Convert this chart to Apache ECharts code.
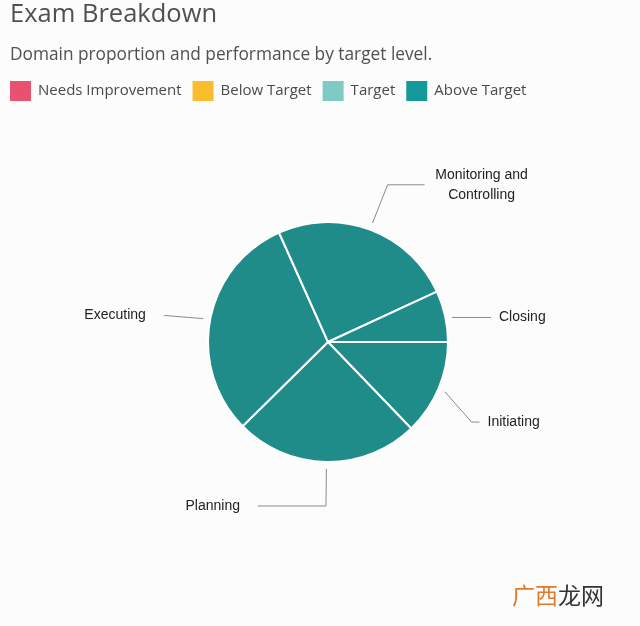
<!DOCTYPE html>
<html>
<head>
<meta charset="utf-8">
<script src="https://cdn.jsdelivr.net/npm/echarts@6/dist/echarts.min.js"></script>
<style>
html,body{margin:0;padding:0;background:#fcfcfd;}
#chart{width:640px;height:626px;}
</style>
</head>
<body>
<div id="chart"></div>
<script>
// ---- data ----
const domains = ['Initiating', 'Planning', 'Executing', 'Monitoring and Controlling', 'Closing'];
const shares = [12.8, 24.8, 30.7, 24.8, 6.9];
const levels = ['Needs Improvement', 'Below Target', 'Target', 'Above Target'];
const levelColors = ['#e9526f', '#fbbd2d', '#7ecac4', '#16999a'];
const sliceColor = '#208c89';

// label line styling per slice (px)
const lineLen = [36, 42, 45, 50, 8];
const lineLen2 = [8, 68, 2, 37, 38];
const labelGap = [8, 18, 18, 7, 8];
const labelDy = [19, 2, 4, 2, 3];

const chart = echarts.init(document.getElementById('chart'));

const legendSeries = levels.map((name, i) => ({
  name: name, type: 'bar', data: [], itemStyle: { color: levelColors[i] }
}));

const pieData = domains.map((d, i) => ({
  name: d,
  value: shares[i],
  label: { distanceToLabelLine: labelGap[i] },
  labelLine: { length: lineLen[i], length2: lineLen2[i] }
}));

chart.setOption({
  backgroundColor: '#fcfcfd',
  animation: false,
  title: {
    text: 'Exam Breakdown',
    subtext: 'Domain proportion and performance by target level.',
    left: 5, top: -3,
    itemGap: 19,
    textStyle: { fontFamily: 'Open Sans', fontSize: 25.5, fontWeight: 'normal', color: '#505050' },
    subtextStyle: { fontFamily: 'Open Sans', fontSize: 17.3, color: '#505050' }
  },
  legend: {
    data: levels,
    left: 5, top: 76,
    icon: 'rect',
    itemWidth: 21, itemHeight: 20,
    itemGap: 11,
    textStyle: { fontFamily: 'Open Sans', fontSize: 15, color: '#4a4a4a', padding: [0, 0, 0, 2] }
  },
  grid: { show: false, left: 0, top: 0, width: 1, height: 1 },
  xAxis: { type: 'category', show: false, data: [] },
  yAxis: { type: 'value', show: false },
  series: [
    ...legendSeries,
    {
      type: 'pie',
      center: [328, 342],
      radius: 120,
      startAngle: 0,
      clockwise: true,
      data: pieData,
      itemStyle: { color: sliceColor, borderColor: '#ffffff', borderWidth: 2 },
      label: {
        show: true,
        fontFamily: 'Liberation Sans',
        fontSize: 14,
        color: '#222',
        formatter: function (p) {
          if (p.name === 'Monitoring and Controlling') return '{c|Monitoring and}\n{c|Controlling}';
          return p.name;
        },
        rich: { c: { width: 100, align: 'center', fontFamily: 'Liberation Sans', fontSize: 14, color: '#222', lineHeight: 20 } }
      },
      labelLine: { lineStyle: { color: '#8a8a8a', width: 1 } },
      emphasis: { disabled: true },
      labelLayout: function (params) {
        const pts = params.labelLinePoints;
        if (!pts) return {};
        const dy = labelDy[params.dataIndex] || 0;
        const dx0 = pts[1][0] - pts[0][0], dy0 = pts[1][1] - pts[0][1];
        const len = Math.sqrt(dx0 * dx0 + dy0 * dy0) || 1;
        const sh = Math.min(7, len);
        const startDy = len <= 10 ? dy : 0;
        const np = [
          [pts[0][0] + dx0 / len * sh, pts[0][1] + dy0 / len * sh + startDy],
          [pts[1][0], pts[1][1] + dy],
          [pts[2][0], pts[2][1] + dy]
        ];
        return { labelLinePoints: np, y: params.labelRect.y + dy + params.labelRect.height / 2, verticalAlign: 'middle' };
      }
    }
  ],
  graphic: [{
    type: 'text',
    left: 512, top: 584,
    style: {
      text: '{o|广西}{d|龙网}',
      rich: {
        o: { fontFamily: 'Noto Sans CJK SC', fontSize: 23, fill: '#e07a2c' },
        d: { fontFamily: 'Noto Sans CJK SC', fontSize: 23, fill: '#333333' }
      }
    }
  }]
});
</script>
</body>
</html>
